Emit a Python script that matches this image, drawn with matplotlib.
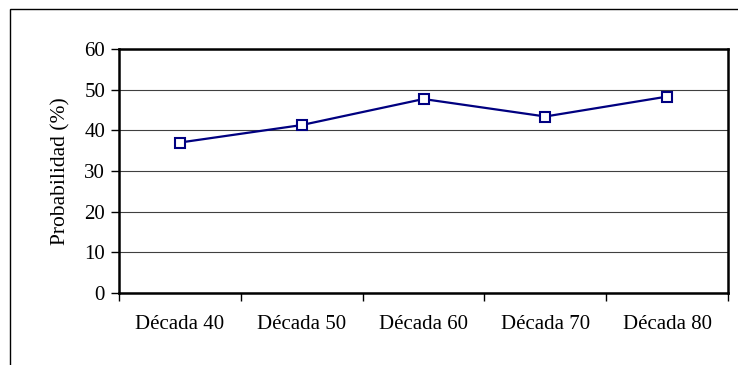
import matplotlib.pyplot as plt
from matplotlib.patches import Rectangle

decadas = ['Década 40', 'Década 50', 'Década 60', 'Década 70', 'Década 80']
probabilidad = [37.0, 41.3, 47.7, 43.4, 48.3]

plt.rcParams['font.family'] = ['Liberation Serif', 'DejaVu Serif']

fig = plt.figure(figsize=(7.38, 3.65), dpi=100)
ax = fig.add_axes([119/738, 1 - 293/365, (728 - 119)/738, (293 - 49)/365])

# marco exterior (cortado a la derecha y abajo)
fig.patches.append(Rectangle((10/738, -0.05), 1.2, 1 - 9/365 + 0.05, transform=fig.transFigure,
                             fill=False, edgecolor='black', linewidth=1.0))

x = range(len(decadas))
ax.plot(x, probabilidad, color='#000080', linewidth=1.6, marker='s', markersize=6.5,
        markerfacecolor='white', markeredgecolor='#000080', markeredgewidth=1.5, zorder=3)

ax.set_xlim(-0.5, len(decadas) - 0.5)
ax.set_ylim(0, 60)
ax.set_yticks(range(0, 61, 10))
ax.set_xticks([i - 0.5 for i in range(len(decadas) + 1)], minor=False)
ax.set_xticklabels([])
ax.set_xticks(list(x), minor=True)
ax.set_xticklabels(decadas, minor=True)
ax.tick_params(axis='x', which='minor', length=0, pad=16, labelsize=15)
ax.tick_params(axis='x', which='major', direction='out', length=6, width=1)
ax.tick_params(axis='y', direction='out', length=6, width=1, labelsize=15, pad=4)
ax.grid(axis='y', color='#404040', linewidth=0.8)
for s in ax.spines.values():
    s.set_linewidth(1.8)
ax.set_ylabel('Probabilidad (%)', fontsize=15.5, labelpad=10)

fig.savefig('out.png', dpi=100)
